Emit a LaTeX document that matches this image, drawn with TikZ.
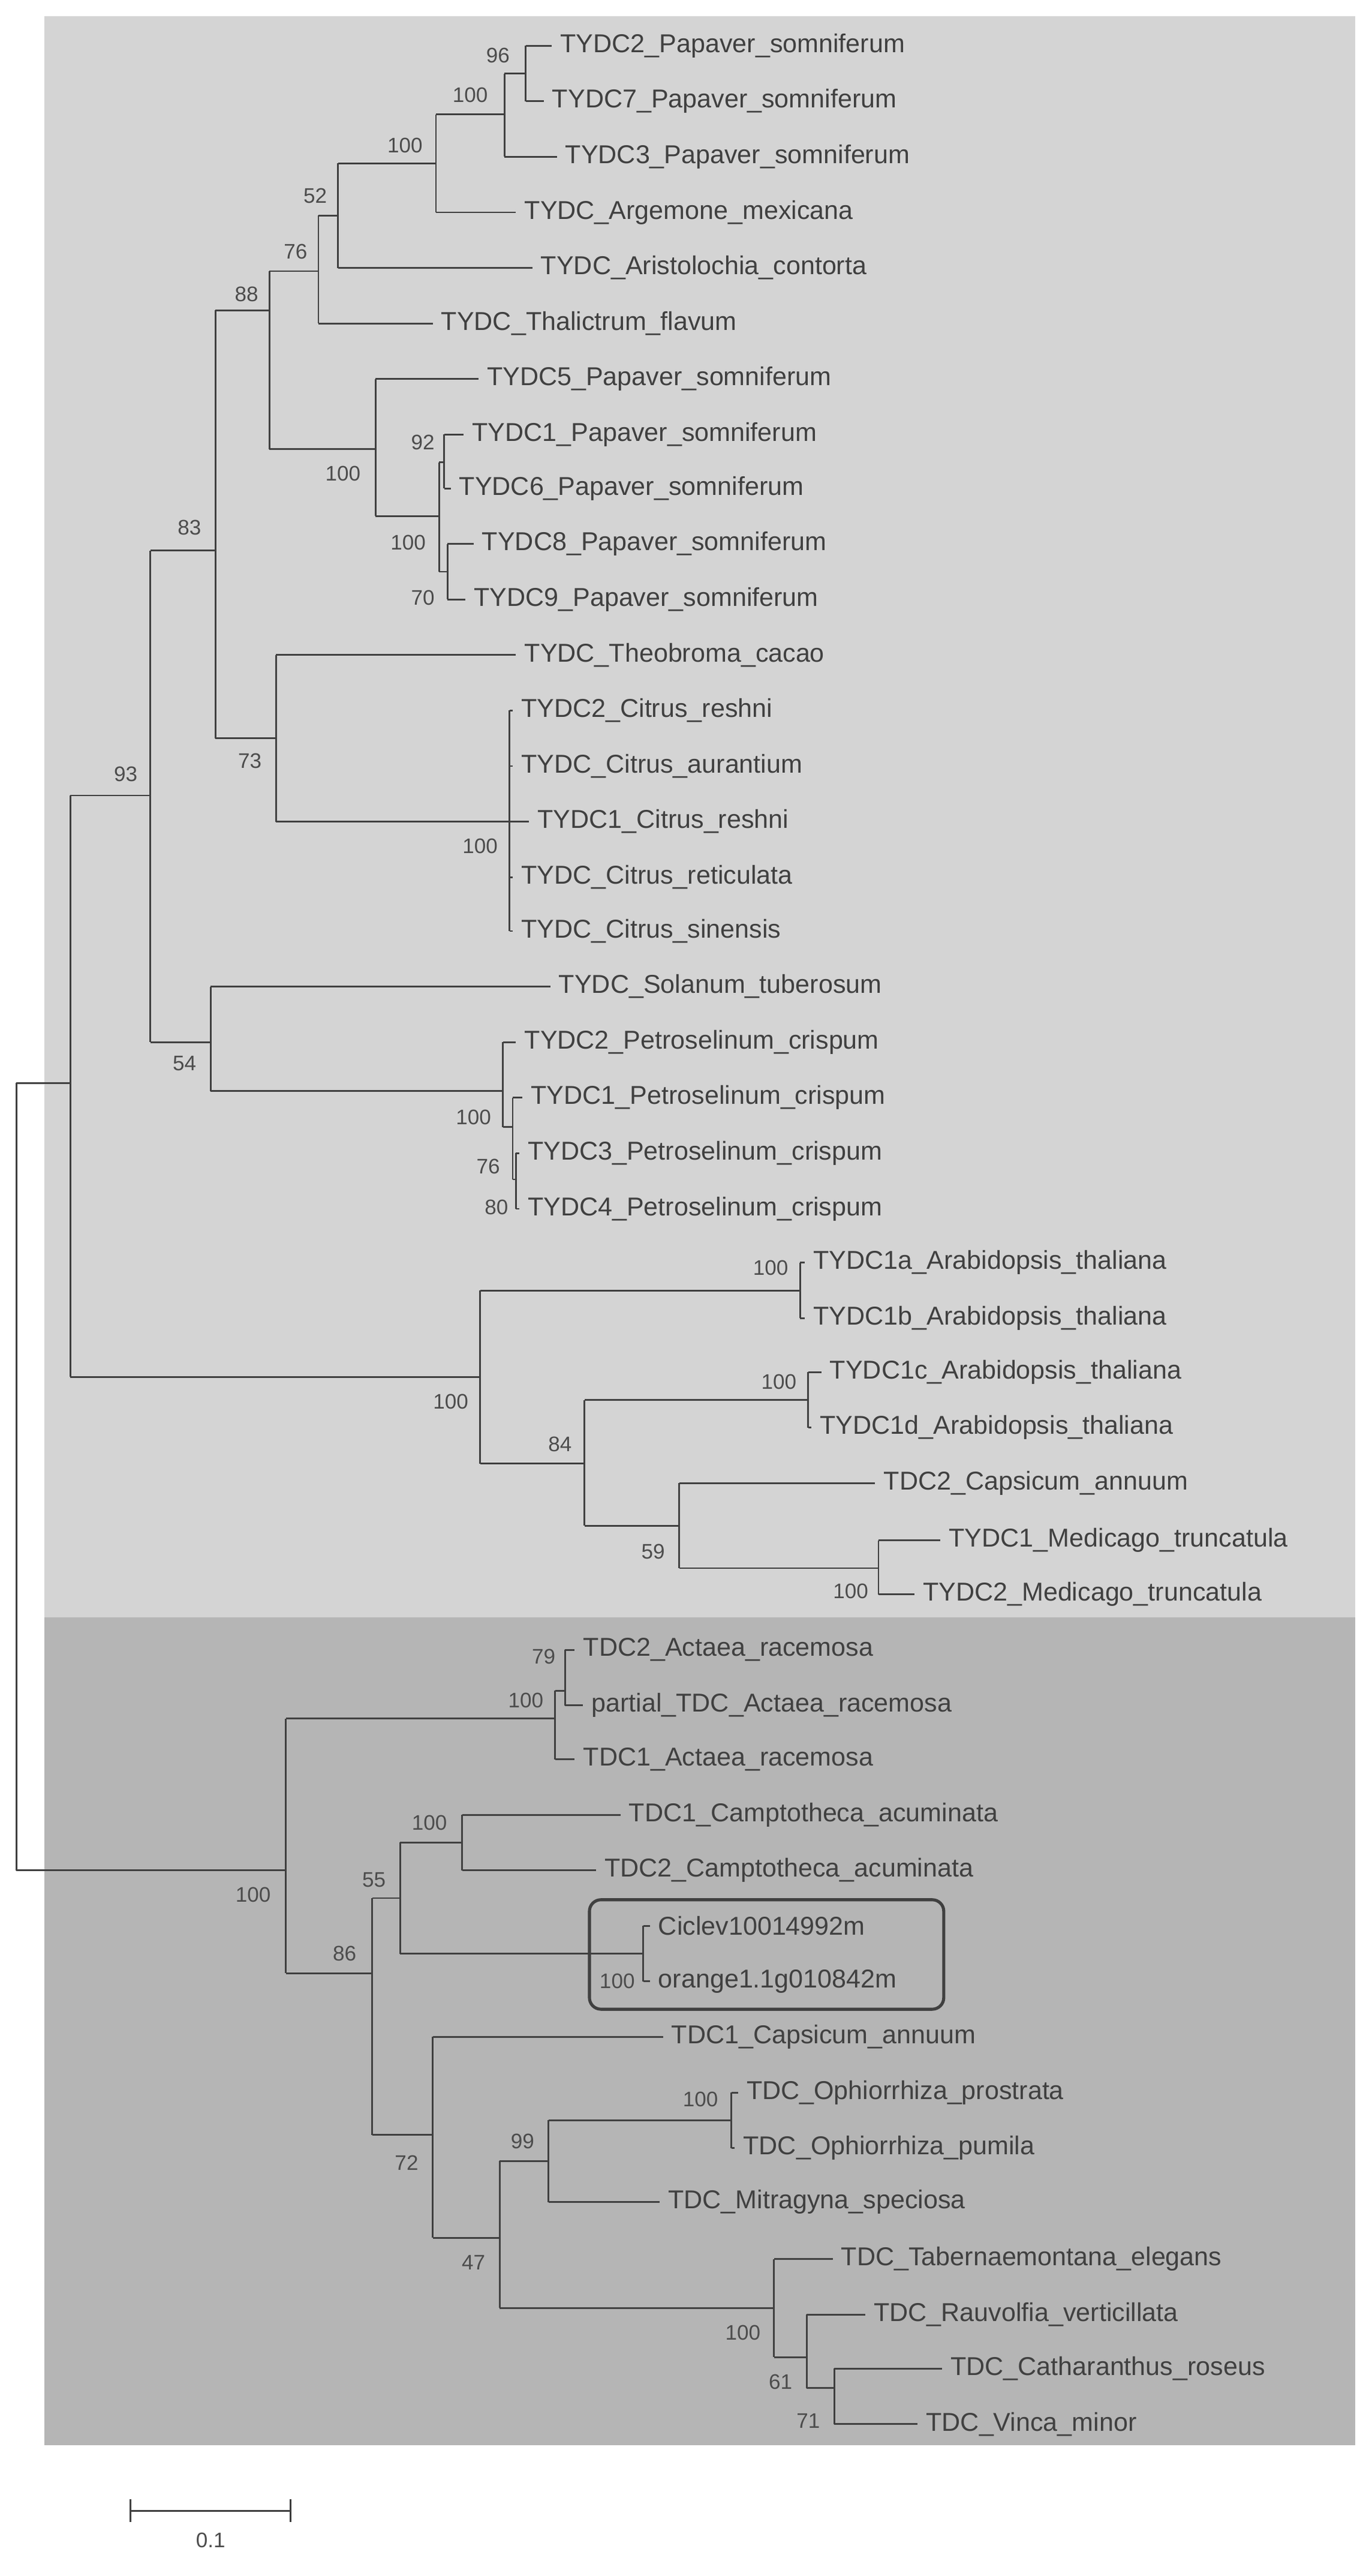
\documentclass[tikz,border=0pt]{standalone}
\usepackage{fontspec}
\setmainfont{Liberation Sans}
\begin{document}
\begin{tikzpicture}[x=0.03cm,y=-0.03cm,
  br/.style={draw=black!75,line width=0.9pt},
  lf/.style={anchor=west,inner sep=0pt,text=black!75,font=\fontsize{13.5}{16}\selectfont},
  bs/.style={inner sep=0pt,text=black!70,font=\fontsize{11}{13}\selectfont}]
\useasboundingbox (0,0) rectangle (840,1577);
\fill[fill=black!17] (27,10) rectangle (830,990);
\fill[fill=black!29] (27,990) rectangle (830,1497);
\newcommand\cl[3]{\draw[br] (#1,#2)--(#1,#3);}
\newcommand\hl[3]{\draw[br] (#1,#2)--(#3,#2);}
\newcommand\lv[4]{\draw[br] (#1,#2)--(#3,#2); \node[lf] at (#3+5,#2) {#4};}
% upper part
\cl{10}{663}{1145}\hl{10}{663}{43}\hl{10}{1145}{175}
\cl{43}{487}{843}\hl{43}{487}{92}\hl{43}{843}{294}
\cl{92}{337}{638}\hl{92}{337}{132}\hl{92}{638}{129}
\cl{132}{190}{452}\hl{132}{190}{165}\hl{132}{452}{169}
\cl{165}{166}{275}\hl{165}{166}{195}\hl{165}{275}{230}
\cl{195}{132}{198}\hl{195}{132}{207}\lv{195}{198}{265}{TYDC\_Thalictrum\_flavum}
\cl{207}{100}{164}\hl{207}{100}{267}\lv{207}{164}{326}{TYDC\_Aristolochia\_contorta}
\cl{267}{70}{130}\hl{267}{70}{309}\lv{267}{130}{316}{TYDC\_Argemone\_mexicana}
\cl{309}{45}{96}\hl{309}{45}{322}\lv{309}{96}{341}{TYDC3\_Papaver\_somniferum}
\cl{322}{28}{62}\lv{322}{28}{338}{TYDC2\_Papaver\_somniferum}\lv{322}{62}{333}{TYDC7\_Papaver\_somniferum}
\cl{230}{232}{316}\lv{230}{232}{293}{TYDC5\_Papaver\_somniferum}\hl{230}{316}{269}
\cl{269}{283}{350}\hl{269}{283}{272}\hl{269}{350}{274}
\cl{272}{266}{299}\lv{272}{266}{284}{TYDC1\_Papaver\_somniferum}\lv{272}{299}{276}{TYDC6\_Papaver\_somniferum}
\cl{274}{333}{367}\lv{274}{333}{290}{TYDC8\_Papaver\_somniferum}\lv{274}{367}{285}{TYDC9\_Papaver\_somniferum}
\cl{169}{401}{503}\lv{169}{401}{316}{TYDC\_Theobroma\_cacao}\hl{169}{503}{312}
\cl{312}{435}{570}
\lv{312}{435}{314}{TYDC2\_Citrus\_reshni}
\lv{312}{469}{314}{TYDC\_Citrus\_aurantium}
\lv{312}{503}{324}{TYDC1\_Citrus\_reshni}
\lv{312}{537}{314}{TYDC\_Citrus\_reticulata}
\lv{312}{570}{314}{TYDC\_Citrus\_sinensis}
\cl{129}{604}{668}\lv{129}{604}{337}{TYDC\_Solanum\_tuberosum}\hl{129}{668}{308}
\cl{308}{638}{690}\lv{308}{638}{316}{TYDC2\_Petroselinum\_crispum}\hl{308}{690}{314}
\cl{314}{672}{722}\lv{314}{672}{320}{TYDC1\_Petroselinum\_crispum}\hl{314}{722}{316}
\cl{316}{706}{740}\lv{316}{706}{318}{TYDC3\_Petroselinum\_crispum}\lv{316}{740}{318}{TYDC4\_Petroselinum\_crispum}
\cl{294}{790}{896}\hl{294}{790}{490}\hl{294}{896}{358}
\cl{490}{773}{807}\lv{490}{773}{493}{TYDC1a\_Arabidopsis\_thaliana}\lv{490}{807}{493}{TYDC1b\_Arabidopsis\_thaliana}
\cl{358}{857}{934}\hl{358}{857}{495}\hl{358}{934}{416}
\cl{495}{840}{874}\lv{495}{840}{503}{TYDC1c\_Arabidopsis\_thaliana}\lv{495}{874}{497}{TYDC1d\_Arabidopsis\_thaliana}
\cl{416}{908}{960}\lv{416}{908}{536}{TDC2\_Capsicum\_annuum}\hl{416}{960}{538}
\cl{538}{943}{976}\lv{538}{943}{576}{TYDC1\_Medicago\_truncatula}\lv{538}{976}{560}{TYDC2\_Medicago\_truncatula}
% lower part
\cl{175}{1052}{1208}\hl{175}{1052}{340}\hl{175}{1208}{228}
\cl{340}{1035}{1077}\hl{340}{1035}{346}\lv{340}{1077}{352}{TDC1\_Actaea\_racemosa}
\cl{346}{1010}{1044}\lv{346}{1010}{352}{TDC2\_Actaea\_racemosa}\lv{346}{1044}{357}{partial\_TDC\_Actaea\_racemosa}
\cl{228}{1162}{1307}\hl{228}{1162}{245}\hl{228}{1307}{265}
\cl{245}{1128}{1196}\hl{245}{1128}{283}\hl{245}{1196}{394}
\cl{283}{1111}{1145}\lv{283}{1111}{380}{TDC1\_Camptotheca\_acuminata}\lv{283}{1145}{365}{TDC2\_Camptotheca\_acuminata}
\cl{394}{1179}{1213}\lv{394}{1179}{398}{Ciclev10014992m}\lv{394}{1213}{398}{orange1.1g010842m}
\draw[draw=black!75,line width=1.6pt,rounded corners=6] (361,1163) rectangle (578,1230);
\cl{265}{1247}{1370}\lv{265}{1247}{406}{TDC1\_Capsicum\_annuum}\hl{265}{1370}{306}
\cl{306}{1323}{1413}\hl{306}{1323}{336}\hl{306}{1413}{474}
\cl{336}{1298}{1348}\hl{336}{1298}{448}\lv{336}{1348}{404}{TDC\_Mitragyna\_speciosa}
\cl{448}{1281}{1315}\lv{448}{1281}{452}{TDC\_Ophiorrhiza\_prostrata}\lv{448}{1315}{450}{TDC\_Ophiorrhiza\_pumila}
\cl{474}{1383}{1443}\lv{474}{1383}{510}{TDC\_Tabernaemontana\_elegans}\hl{474}{1443}{494}
\cl{494}{1417}{1462}\lv{494}{1417}{530}{TDC\_Rauvolfia\_verticillata}\hl{494}{1462}{511}
\cl{511}{1450}{1484}\lv{511}{1450}{577}{TDC\_Catharanthus\_roseus}\lv{511}{1484}{562}{TDC\_Vinca\_minor}
% bootstrap values
\foreach \x/\y/\t in {305/34/96,288/58/100,248/89/100,193/120/52,181/154/76,151/180/88,210/290/100,259/271/92,250/332/100,259/366/70,116/323/83,153/466/73,294/518/100,77/474/93,113/651/54,290/684/100,299/714/76,304/739/80,472/776/100,276/858/100,477/846/100,343/884/84,400/950/59,521/974/100,333/1014/79,322/1041/100,263/1116/100,229/1151/55,378/1213/100,155/1160/100,211/1196/86,249/1324/72,320/1311/99,290/1385/47,429/1285/100,455/1428/100,478/1458/61,495/1482/71}
  \node[bs] at (\x,\y) {\t};
% scale bar
\draw[br] (80,1537)--(178,1537) (80,1530)--(80,1544) (178,1530)--(178,1544);
\node[bs] at (129,1555) {0.1};
\end{tikzpicture}
\end{document}
